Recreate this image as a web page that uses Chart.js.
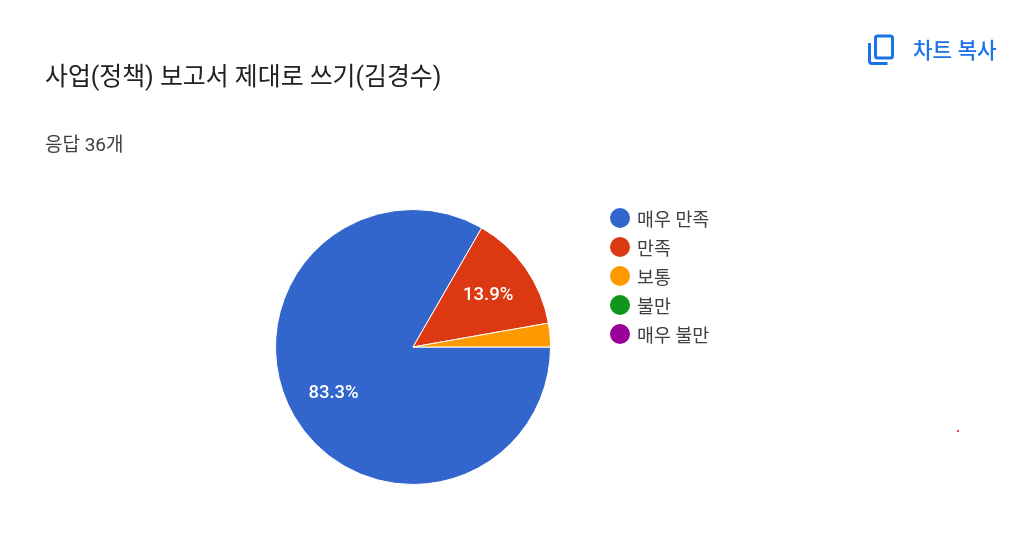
<!DOCTYPE html>
<html lang="ko">
<head>
<meta charset="utf-8">
<script src="https://cdn.jsdelivr.net/npm/chart.js@4"></script>
<style>
html,body{margin:0;padding:0;background:#fff;width:1016px;height:535px;overflow:hidden}
body{position:relative;font-family:Roboto,"Noto Sans CJK KR",sans-serif}
#c{position:absolute;left:0;top:0;width:1016px;height:535px}
.t{position:absolute;white-space:nowrap;line-height:1}
#title{left:45px;top:65px;font-size:24.900px;color:#202124}
#sub{left:45px;top:135px;font-size:19px;color:#3c4043}
#copy{left:913px;top:40px;font-size:21.300px;font-weight:500;color:#1a73e8}
#icon{position:absolute;left:860px;top:30px}
#dot{position:absolute;left:957px;top:430px;width:2px;height:2px;background:#f00;border-radius:1px}
#legend{position:absolute;left:610px;top:203px}
.li{height:29.1px;display:flex;align-items:center;font-size:18.400px;color:#3c4043}
.sw{width:20px;height:20px;border-radius:50%;margin-right:7px;flex:none}
</style>
</head>
<body>
<canvas id="c" width="1016" height="535"></canvas>
<div class="t" id="title">사업(정책) 보고서 제대로 쓰기(김경수)</div>
<div class="t" id="sub">응답 36개</div>
<svg id="icon" width="40" height="40" viewBox="860 30 40 40" fill="none" stroke="#1a73e8" stroke-width="3"><rect x="875.500" y="36" width="17" height="22" rx="2"/><path d="M869.500 43v18a2.500 2.500 0 0 0 2.500 2.500h15.500"/></svg>
<div class="t" id="copy">차트 복사</div>
<div id="legend"></div>
<div id="dot"></div>
<script>
const categories = ["매우 만족", "만족", "보통", "불만", "매우 불만"];
const responses = [30, 5, 1, 0, 0];
const colors = ["#3366cc", "#dc3912", "#ff9900", "#109618", "#990099"];

const pctLabels = {
  id: "pctLabels",
  afterDatasetsDraw(chart) {
    const ctx = chart.ctx;
    const total = responses.reduce((a, b) => a + b, 0);
    chart.getDatasetMeta(0).data.forEach((arc, i) => {
      const share = responses[i] / total;
      if (share < 0.05) return;
      const p = arc.getProps(["x", "y", "startAngle", "endAngle", "outerRadius"], true);
      const mid = (p.startAngle + p.endAngle) / 2;
      const r = p.outerRadius * 0.667;
      ctx.save();
      ctx.fillStyle = "#fff";
      ctx.font = "500 18.500px Roboto, sans-serif";
      ctx.textAlign = "center";
      ctx.textBaseline = "middle";
      ctx.fillText((share * 100).toFixed(1) + "%", p.x + Math.cos(mid) * r, p.y + Math.sin(mid) * r + 0.5);
      ctx.restore();
    });
  }
};

const chart = new Chart(document.getElementById("c"), {
  type: "pie",
  data: { labels: categories, datasets: [{ data: responses, backgroundColor: colors, borderColor: "#fff", borderWidth: 1 }] },
  options: {
    responsive: false,
    animation: false,
    rotation: 90,
    layout: { padding: { left: 275, right: 465, top: 208.500, bottom: 49.500 } },
    plugins: { legend: { display: false }, tooltip: { enabled: false }, title: { display: false } }
  },
  plugins: [pctLabels]
});

const legend = document.getElementById("legend");
chart.data.labels.forEach((label, i) => {
  const row = document.createElement("div");
  row.className = "li";
  const sw = document.createElement("span");
  sw.className = "sw";
  sw.style.background = colors[i];
  const tx = document.createElement("span");
  tx.textContent = label;
  row.append(sw, tx);
  legend.appendChild(row);
});
</script>
</body>
</html>
